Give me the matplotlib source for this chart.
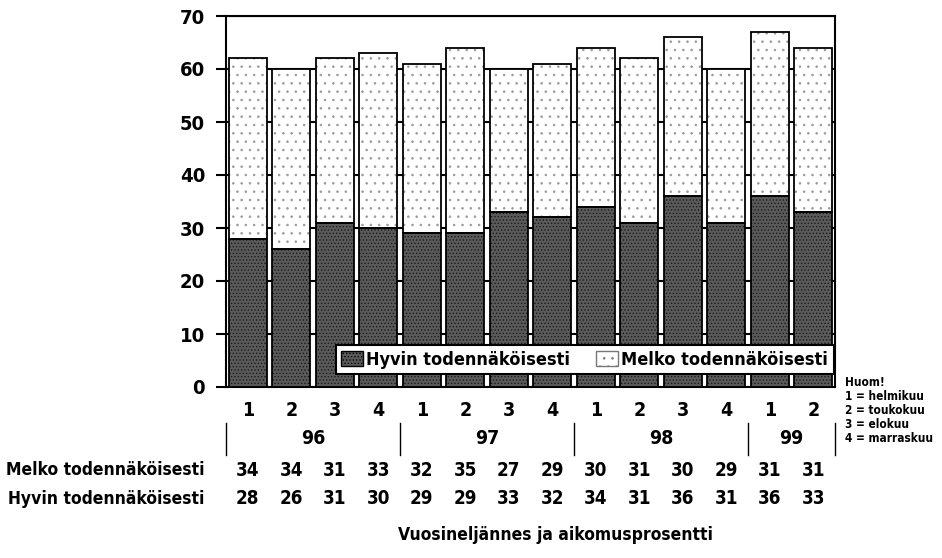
import numpy as np
import matplotlib
matplotlib.use("Agg")
import matplotlib.pyplot as plt
from matplotlib.patches import Patch
import matplotlib.transforms as mtransforms

plt.rcParams['font.family'] = ['DejaVu Sans']
plt.rcParams['font.stretch'] = 'condensed'
plt.rcParams['font.weight'] = 'bold'
plt.rcParams['hatch.linewidth'] = 0.6

quarters = ['1', '2', '3', '4', '1', '2', '3', '4', '1', '2', '3', '4', '1', '2']
years = ['96', '97', '98', '99']
year_sizes = [4, 4, 4, 2]
hyvin = [28, 26, 31, 30, 29, 29, 33, 32, 34, 31, 36, 31, 36, 33]
melko = [34, 34, 31, 33, 32, 35, 27, 29, 30, 31, 30, 29, 31, 31]
note_lines = ['Huom!', '1 = helmikuu', '2 = toukokuu', '3 = elokuu', '4 = marraskuu']

W, H = 942, 558
fig = plt.figure(figsize=(W / 100, H / 100), dpi=100)
ax = fig.add_axes([226 / W, 1 - 387 / H, (835 - 226) / W, (387 - 16) / H])

x = np.arange(len(hyvin))
bw = 0.88
# textured fills first, black outlines drawn on top
ax.bar(x, hyvin, width=bw, color='#5a5a5a', edgecolor='#1a1a1a',
       linewidth=0, hatch='.....', zorder=3)
ax.bar(x, melko, width=bw, bottom=hyvin, color='white', edgecolor='#9a9a9a',
       linewidth=0, hatch='..', zorder=3)
ax.bar(x, hyvin, width=bw, fill=False, edgecolor='black', linewidth=1.3, zorder=4)
ax.bar(x, melko, width=bw, bottom=hyvin, fill=False, edgecolor='black', linewidth=1.3, zorder=4)

ax.set_xlim(-0.5, len(hyvin) - 0.5)
ax.set_ylim(0, 70)
ax.set_yticks(range(0, 71, 10))
ax.set_xticks([])
ax.yaxis.grid(True, color='black', linewidth=1.5, zorder=0)
ax.set_axisbelow(True)
ax.tick_params(axis='y', length=7, width=1.5, labelsize=14.5, pad=8)
for s in ax.spines.values():
    s.set_linewidth(1.5)
for lab in ax.get_yticklabels():
    lab.set_fontweight('bold')

handles = [Patch(facecolor='#5a5a5a', edgecolor='black', hatch='.....', label='Hyvin todennäköisesti'),
           Patch(facecolor='white', edgecolor='#777777', hatch='..', label='Melko todennäköisesti')]
leg = ax.legend(handles=handles, ncol=2, loc='lower left',
                bbox_to_anchor=(0.18, 0.035, 0.818, 0.081), mode='expand',
                fontsize=13, frameon=True, fancybox=False, borderpad=0.3,
                handlelength=1.2, handleheight=0.9, handletextpad=0.2,
                columnspacing=1.5, borderaxespad=0)
leg.get_frame().set_edgecolor('black')
leg.get_frame().set_linewidth(1.5)
leg.get_frame().set_alpha(1)
leg.set_zorder(5)

# data-x / figure-y transform for the table under the chart
tr = mtransforms.blended_transform_factory(ax.transData, fig.transFigure)

def fy(py):
    return 1 - py / H

for i, q in enumerate(quarters):
    ax.text(i, fy(411), q, transform=tr, ha='center', va='center', fontsize=14, fontweight='bold')
    ax.text(i, fy(470), str(melko[i]), transform=tr, ha='center', va='center', fontsize=13.5, fontweight='bold')
    ax.text(i, fy(499), str(hyvin[i]), transform=tr, ha='center', va='center', fontsize=13.5, fontweight='bold')

start = -0.5
seps = [start]
for yr, n in zip(years, year_sizes):
    ax.text(start + n / 2, fy(439), yr, transform=tr, ha='center', va='center', fontsize=14, fontweight='bold')
    start += n
    seps.append(start)
for sx in seps:
    ax.plot([sx, sx], [fy(423), fy(455)], transform=tr, color='black', linewidth=1, clip_on=False)

fig.text(204 / W, fy(470), 'Melko todennäköisesti', ha='right', va='center', fontsize=12.5, fontweight='bold')
fig.text(204 / W, fy(499), 'Hyvin todennäköisesti', ha='right', va='center', fontsize=12.5, fontweight='bold')
fig.text(555 / W, fy(535), 'Vuosineljännes ja aikomusprosentti', ha='center', va='center', fontsize=12.5, fontweight='bold')

for k, line in enumerate(note_lines):
    fig.text(845 / W, fy(383 + 14 * k), line, ha='left', va='center', fontsize=8.5, fontweight='bold')

fig.savefig('out.png', dpi=100)
